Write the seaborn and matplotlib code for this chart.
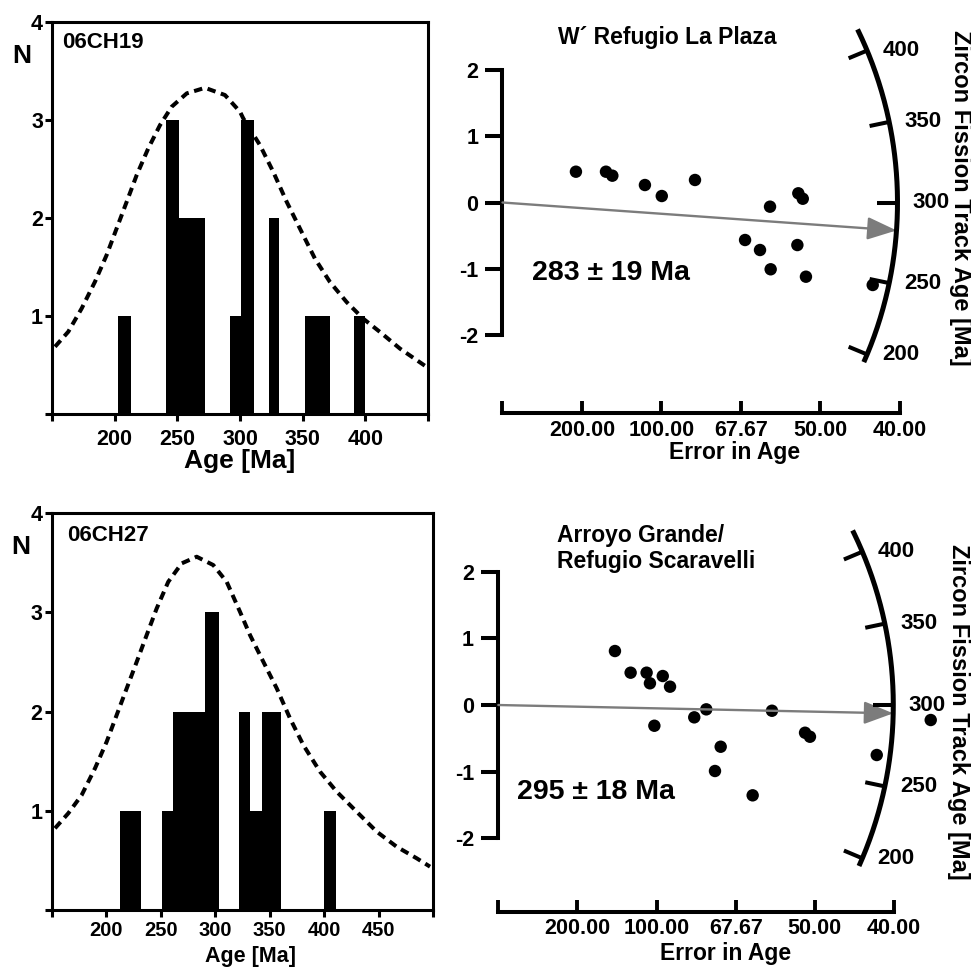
import numpy as np
import matplotlib
matplotlib.use("Agg")
import matplotlib.pyplot as plt
import seaborn as sns

sns.set_theme(style="white")
plt.rcParams["font.family"] = ["Liberation Sans", "DejaVu Sans"]
plt.rcParams["font.weight"] = "bold"
plt.rcParams["axes.unicode_minus"] = False
for key in ("text.color", "axes.labelcolor", "xtick.color", "ytick.color"):
    plt.rcParams[key] = "black"

# ---------------- data ----------------
# Age histograms (bin edges in Ma, grain counts per bin)
CH19_EDGES = [203, 213, 241, 251, 272, 292, 301, 311, 323, 331, 352, 372, 391, 400]
CH19_COUNTS = [1, 0, 3, 2, 0, 1, 3, 0, 2, 0, 1, 0, 1]
CH27_EDGES = [213, 232, 251, 261, 291, 303, 322, 332, 343, 360, 400, 411]
CH27_COUNTS = [1, 0, 1, 2, 3, 0, 2, 1, 2, 0, 1]

# Probability density curves (age in Ma, scaled to N)
CH19_CURVE_AGE = [152.4, 163.0, 173.7, 184.3, 193.6, 201.6, 209.6, 217.6, 226.8, 236.2,
                  245.5, 257.5, 272.1, 288.0, 300.0, 302.6, 315.9, 326.6, 337.3, 347.9,
                  359.8, 371.8, 385.1, 398.4, 411.7, 427.7, 449.0]
CH19_CURVE_N = [0.686, 0.839, 1.077, 1.349, 1.621, 1.893, 2.164, 2.437, 2.708, 2.946,
                3.133, 3.269, 3.326, 3.252, 3.082, 3.014, 2.742, 2.467, 2.162, 1.889,
                1.584, 1.345, 1.141, 0.971, 0.836, 0.666, 0.479]
CH27_CURVE_AGE = [153.0, 165.2, 177.5, 189.7, 200.4, 209.6, 218.8, 228.0, 237.1, 246.3,
                  256.9, 269.2, 283.0, 298.2, 310.5, 322.7, 331.9, 344.1, 356.4, 368.6,
                  380.8, 396.1, 411.4, 429.7, 448.1, 466.4, 484.8, 497.0]
CH27_CURVE_N = [0.824, 0.975, 1.159, 1.428, 1.696, 1.966, 2.235, 2.503, 2.772, 3.041,
                3.309, 3.495, 3.562, 3.478, 3.309, 3.007, 2.772, 2.503, 2.235, 1.932,
                1.663, 1.395, 1.193, 0.991, 0.790, 0.638, 0.521, 0.437]

# Radial plots: precision (1 / error in age) and standardised estimate
PLAZA_PREC = [0.00462, 0.00651, 0.00691, 0.00896, 0.01002, 0.01211, 0.01683, 0.01861,
              0.01889, 0.01526, 0.01620, 0.01855, 0.01687, 0.01909, 0.02329]
PLAZA_Z = [0.465, 0.465, 0.405, 0.264, 0.098, 0.340, -0.063, 0.139,
           0.057, -0.566, -0.717, -0.642, -1.008, -1.120, -1.245]
SCARA_PREC = [0.00737, 0.00836, 0.00937, 0.00958, 0.01039, 0.01085, 0.00986, 0.01238,
              0.01314, 0.01729, 0.01405, 0.01369, 0.01607, 0.01938, 0.01969, 0.02391, 0.02732]
SCARA_Z = [0.810, 0.485, 0.485, 0.326, 0.435, 0.275, -0.311, -0.185,
           -0.065, -0.086, -0.626, -0.990, -1.355, -0.416, -0.476, -0.750, -0.225]

PLAZA_AGE, PLAZA_ERR = 283, 19
SCARA_AGE, SCARA_ERR = 295, 18
REF_AGE = 300

Z_TICKS = [-2, -1, 0, 1, 2]
PREC_TICKS = [0.0, 0.005, 0.010, 0.015, 0.020, 0.025]
PREC_LABELS = ["", "200.00", "100.00", "67.67", "50.00", "40.00"]
ARC_TICKS = [200, 250, 300, 350, 400]
ARC_SPAN = (194, 417)

# ---------------- layout ----------------
FIG_W, FIG_H = 971, 969
fig = plt.figure(figsize=(FIG_W / 100, FIG_H / 100), dpi=100)


def rect(left, top, right, bottom):
    return [left / FIG_W, 1 - bottom / FIG_H, (right - left) / FIG_W, (bottom - top) / FIG_H]


ax_h1 = fig.add_axes(rect(52, 21.7, 428, 414))
ax_h2 = fig.add_axes(rect(51.7, 513.3, 433.3, 910))
ax_r1 = fig.add_axes(rect(480, 10, 950, 413.3))
ax_r2 = fig.add_axes(rect(480, 490, 950, 911.7))


def draw_hist(ax, edges, counts, c_age, c_n, xmax, sample, n_xy, s_xy, lab_xy,
              lab_size, xtick_size, xtick_pad):
    mids = [(a + b) / 2 for a, b in zip(edges[:-1], edges[1:])]
    sns.histplot(x=mids, weights=counts, bins=edges, color="black", alpha=1,
                 linewidth=0, edgecolor="none", ax=ax)
    sns.lineplot(x=c_age, y=c_n, ax=ax, color="black", linewidth=2.9,
                 linestyle=(0, (2.1, 1.4)), clip_on=False)
    ax.set_xlim(150, xmax)
    ax.set_ylim(0, 4)
    xt = list(range(150, xmax + 1, 50))
    ax.set_xticks(xt)
    ax.set_xticklabels([""] + [str(v) for v in xt[1:-1]] + [""])
    ax.set_yticks([0, 1, 2, 3, 4])
    ax.set_yticklabels(["", "1", "2", "3", "4"])
    ax.tick_params(axis="both", which="major", direction="out", length=5, width=2.2,
                   color="black", labelsize=15.5, labelcolor="black",
                   bottom=True, left=True, top=False, right=False)
    ax.tick_params(axis="y", pad=1.5)
    ax.tick_params(axis="x", pad=xtick_pad, labelsize=xtick_size)
    for sp in ax.spines.values():
        sp.set_visible(True)
        sp.set_linewidth(2.2)
        sp.set_color("black")
    ax.set_xlabel("")
    ax.set_ylabel("")
    ax.text(*s_xy, sample, transform=ax.transAxes, fontsize=16, ha="left", va="center")
    ax.text(*n_xy, "N", transform=ax.transAxes, fontsize=19, ha="center", va="center")
    ax.text(*lab_xy, "Age [Ma]", transform=ax.transAxes, fontsize=lab_size,
            ha="center", va="center")


draw_hist(ax_h1, CH19_EDGES, CH19_COUNTS, CH19_CURVE_AGE, CH19_CURVE_N, 450, "06CH19",
          (-0.08, 0.913), (0.027, 0.948), (0.5, -0.12), 19, 15.5, 5.5)
draw_hist(ax_h2, CH27_EDGES, CH27_COUNTS, CH27_CURVE_AGE, CH27_CURVE_N, 500, "06CH27",
          (-0.08, 0.915), (0.04, 0.945), (0.522, -0.116), 15.5, 14.5, 3)


def draw_radial(ax, prec, z, age, err, xlim, ylim, title, title_xy, title_ha,
                res_xy, err_xy, side_xy, r_px=395):
    ax.set_xlim(*xlim)
    ax.set_ylim(*ylim)
    sns.scatterplot(x=prec, y=z, ax=ax, color="black", s=80, edgecolor="none",
                    zorder=2, clip_on=False)
    ax.set_xlabel("")
    ax.set_ylabel("")
    ax.patch.set_alpha(0)
    ax.spines["top"].set_visible(False)
    ax.spines["right"].set_visible(False)
    ax.spines["left"].set_position(("data", 0))
    ax.spines["left"].set_bounds(-2, 2)
    ax.spines["bottom"].set_bounds(0, 0.025)
    for k in ("left", "bottom"):
        ax.spines[k].set_linewidth(2.9)
        ax.spines[k].set_color("black")
        ax.spines[k].set_capstyle("projecting")
    ax.set_yticks(Z_TICKS)
    ax.set_yticklabels([str(v) for v in Z_TICKS])
    ax.set_xticks(PREC_TICKS)
    ax.set_xticklabels(PREC_LABELS)
    ax.tick_params(axis="y", direction="out", length=12, width=2.9, pad=5.5,
                   labelsize=15.5, color="black", labelcolor="black",
                   left=True, right=False)
    ax.tick_params(axis="x", direction="in", length=8.5, width=2.8, pad=4.5,
                   labelsize=15.5, color="black", labelcolor="black",
                   bottom=True, top=False)

    # pixel scale of the data axes, used to keep the age arc circular on screen
    bb = ax.get_position()
    sx = bb.width * FIG_W / (xlim[1] - xlim[0])
    sy = bb.height * FIG_H / (ylim[1] - ylim[0])

    def arc_point(t, r):
        s = t - REF_AGE
        d = r / np.hypot(sx, s * sy)
        return d, s * d

    ts = np.linspace(ARC_SPAN[0], ARC_SPAN[1], 240)
    pts = np.array([arc_point(t, r_px) for t in ts])
    ax.plot(pts[:, 0], pts[:, 1], color="black", lw=3.6, zorder=5, clip_on=False,
            solid_capstyle="butt")
    for t in ARC_TICKS:
        p_out = arc_point(t, r_px)
        p_in = arc_point(t, r_px - 20)
        ax.plot([p_in[0], p_out[0]], [p_in[1], p_out[1]], color="black", lw=2.9,
                zorder=5, clip_on=False, solid_capstyle="butt")
        ax.annotate(str(t), xy=p_out, xytext=(11, 0), textcoords="offset points",
                    ha="left", va="center", fontsize=16, annotation_clip=False)

    tip = arc_point(age, r_px)
    ax.annotate("", xy=tip, xytext=(0, 0), zorder=4, annotation_clip=False,
                arrowprops=dict(arrowstyle="-|>,head_length=0.9,head_width=0.35",
                                color="#7c7c7c", lw=1.7, shrinkA=0, shrinkB=0,
                                mutation_scale=20))

    ax.text(*title_xy, title, transform=ax.transAxes, fontsize=16.5, ha=title_ha,
            va="center", linespacing=1.15)
    ax.text(*res_xy, f"{age} \u00b1 {err} Ma", transform=ax.transAxes, fontsize=20.5,
            ha="left", va="center")
    ax.text(*err_xy, "Error in Age", transform=ax.transAxes, fontsize=16.5,
            ha="center", va="center")
    ax.text(*side_xy, "Zircon Fission Track Age [Ma]", transform=ax.transAxes,
            fontsize=17, rotation=-90, ha="center", va="center")


draw_radial(ax_r1, PLAZA_PREC, PLAZA_Z, PLAZA_AGE, PLAZA_ERR,
            (-0.001415, 0.028152), (-3.182, 2.906),
            "W\u00b4 Refugio La Plaza", (0.399, 0.9306), "center",
            (0.1106, 0.3479), (0.5426, -0.097), (1.0213, 0.5339))
draw_radial(ax_r2, SCARA_PREC, SCARA_Z, SCARA_AGE, SCARA_ERR,
            (-0.001156, 0.028538), (-3.101, 3.226),
            "Arroyo Grande/\nRefugio Scaravelli", (0.1638, 0.8617), "left",
            (0.0787, 0.2846), (0.523, -0.1), (1.019, 0.4736))

fig.savefig("out.png", dpi=100, facecolor="white")
